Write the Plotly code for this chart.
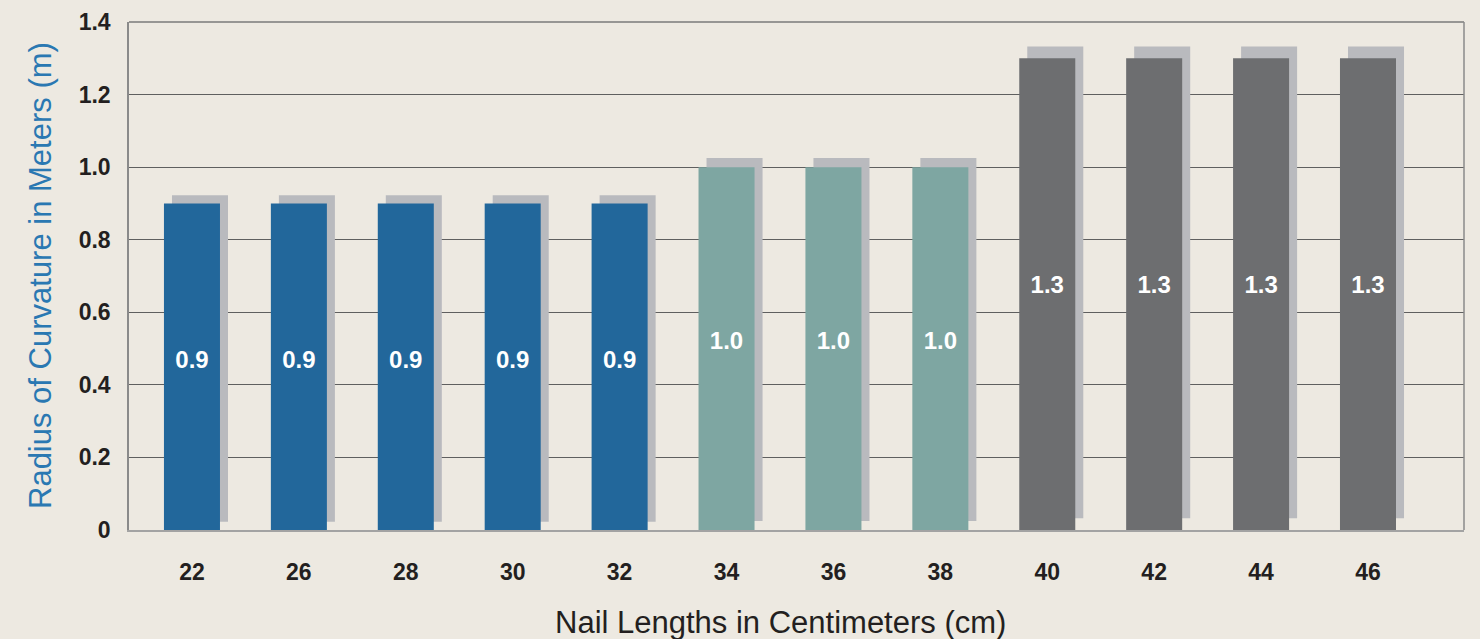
import plotly.graph_objects as go

# Data
nail_lengths = ["22", "26", "28", "30", "32", "34", "36", "38", "40", "42", "44", "46"]
radius_m = [0.9, 0.9, 0.9, 0.9, 0.9, 1.0, 1.0, 1.0, 1.3, 1.3, 1.3, 1.3]
bar_labels = ["0.9", "0.9", "0.9", "0.9", "0.9", "1.0", "1.0", "1.0", "1.3", "1.3", "1.3", "1.3"]
group = ["a", "a", "a", "a", "a", "b", "b", "b", "c", "c", "c", "c"]
y_tick_vals = [0, 0.2, 0.4, 0.6, 0.8, 1.0, 1.2, 1.4]
y_tick_text = ["0", "0.2", "0.4", "0.6", "0.8", "1.0", "1.2", "1.4"]
x_title = "Nail Lengths in Centimeters (cm)"
y_title = "Radius of Curvature in Meters (m)"

# Styles
group_colors = {"a": "#22679b", "b": "#7ea6a2", "c": "#6d6e70"}
shadow_color = "#b9babe"
bg = "#ede9e1"
font_family = "Liberation Sans, Arial, Helvetica, sans-serif"

xs = list(range(len(nail_lengths)))
bar_w = 0.524
shadow_dx = 0.075
shadow_shift = [v * 0.025 for v in radius_m]
label_y = [v * 0.515 for v in radius_m]

fig = go.Figure()

# Shadow bars
fig.add_trace(go.Bar(
    x=[x + shadow_dx for x in xs],
    y=radius_m,
    base=shadow_shift,
    width=bar_w,
    marker=dict(color=shadow_color, line=dict(width=0)),
    hoverinfo="skip",
    showlegend=False,
))

# Main bars
fig.add_trace(go.Bar(
    x=xs,
    y=radius_m,
    width=bar_w,
    marker=dict(color=[group_colors[g] for g in group], line=dict(width=0)),
    showlegend=False,
))

# Value labels inside bars
fig.add_trace(go.Scatter(
    x=xs,
    y=label_y,
    mode="text",
    text=bar_labels,
    textposition="middle center",
    textfont=dict(family=font_family, size=24, color="white", weight="bold"),
    hoverinfo="skip",
    showlegend=False,
))

fig.update_layout(
    width=1480,
    height=639,
    barmode="overlay",
    paper_bgcolor=bg,
    plot_bgcolor=bg,
    margin=dict(l=129, r=16, t=22, b=109, autoexpand=False),
    xaxis=dict(
        range=[-0.589, 11.898],
        tickvals=xs,
        ticktext=nail_lengths,
        tickfont=dict(family=font_family, size=23, color="#231f20", weight="bold"),
        showgrid=False,
        zeroline=False,
        showline=True,
        linecolor="#a3a3a3",
        linewidth=2,
        ticks="",
        ticklabelstandoff=20,
        automargin=False,
    ),
    yaxis=dict(
        range=[0, 1.4],
        tickvals=y_tick_vals,
        ticktext=y_tick_text,
        tickfont=dict(family=font_family, size=23, color="#231f20", weight="bold"),
        showgrid=True,
        gridcolor="#5f5f5f",
        gridwidth=1.3,
        zeroline=False,
        showline=True,
        linecolor="#8a8a8a",
        linewidth=1.5,
        ticks="",
        ticklabelstandoff=12,
        automargin=False,
    ),
    annotations=[
        dict(text=x_title, xref="paper", yref="paper", x=(780 - 129) / 1335, y=-(622 - 530) / 508,
             xanchor="center", yanchor="middle", showarrow=False,
             font=dict(family=font_family, size=31, color="#231f20")),
        dict(text=y_title, xref="paper", yref="paper", x=-(129 - 40) / 1335, y=(530 - 276) / 508,
             xanchor="center", yanchor="middle", showarrow=False, textangle=-90,
             font=dict(family=font_family, size=31, color="#2a78b2")),
    ],
    shapes=[
        dict(type="line", xref="paper", yref="paper", x0=1, x1=1, y0=0, y1=1,
             line=dict(color="#8a8a8a", width=1.5), layer="above"),
        dict(type="line", xref="paper", yref="paper", x0=0, x1=1, y0=1, y1=1,
             line=dict(color="#7a7a7a", width=1.5), layer="below"),
    ],
)

fig.write_html("out.html", config={"displayModeBar": False},
               post_script="document.body.style.margin='0';")
